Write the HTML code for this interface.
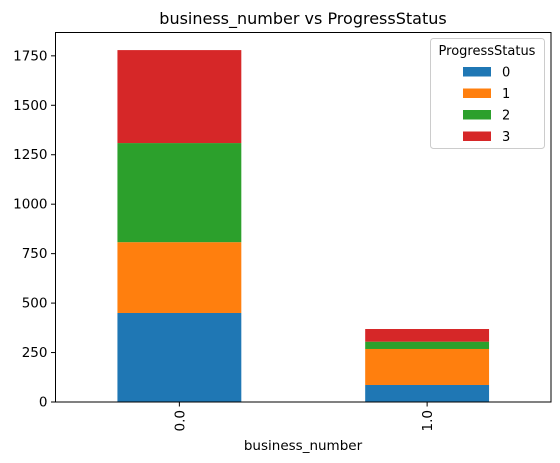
<!DOCTYPE html>
<html><head><meta charset="utf-8"><style>
body{margin:0;background:#fff}
svg{display:block;font-family:"DejaVu Sans","Liberation Sans",sans-serif}
</style></head><body>
<svg id="chart" width="560" height="463">
<text x="303" y="24" font-size="16" text-anchor="middle">business_number vs ProgressStatus</text>
<g id="bars"></g>
<g id="yticks"></g>
<g id="xticks"></g>
<rect x="55.5" y="32.5" width="495.5" height="369.5" fill="none" stroke="#000" stroke-width="1"/>
<text x="303" y="450" font-size="13.5" text-anchor="middle">business_number</text>
<g id="legend">
<rect x="430.5" y="38.5" width="114" height="110" rx="3" fill="#fff" fill-opacity="0.8" stroke="#ccc"/>
<text x="487" y="55" font-size="13" text-anchor="middle">ProgressStatus</text>
</g>
</svg>
<script>
const categories=["0.0","1.0"];
const seriesNames=["0","1","2","3"];
const s0=[450,86];
const s1=[358,182];
const s2=[501,37];
const s3=[470,64];
const yTicks=[0,250,500,750,1000,1250,1500,1750];
const colors=["#1f77b4","#ff7f0e","#2ca02c","#d62728"];
const series=[s0,s1,s2,s3];
const NS="http://www.w3.org/2000/svg";
const L=55.5,R=551,T=32.5,B=402;
const totals=categories.map((c,i)=>series.reduce((a,s)=>a+s[i],0));
const ymax=Math.max(...totals)*1.05;
const y=v=>B-(v/ymax)*(B-T);
const band=(R-L)/categories.length;
const xc=i=>L+band*(i+0.5);
const bw=band*0.5;
function mk(tag,attrs,parent){const e=document.createElementNS(NS,tag);for(const k in attrs)e.setAttribute(k,attrs[k]);parent.appendChild(e);return e;}
const gb=document.getElementById('bars');
categories.forEach((c,i)=>{let acc=0;series.forEach((s,k)=>{
 const r=mk('rect',{x:xc(i)-bw/2,y:y(acc+s[i]),width:bw,height:y(acc)-y(acc+s[i]),fill:colors[k]},gb);
 
 
 acc+=s[i];});});
const gy=document.getElementById('yticks');
yTicks.forEach(v=>{if(v>ymax)return;
 const l=mk('line',{x1:L-4.5,x2:L,y1:y(v),y2:y(v),stroke:'#000'},gy);
 
 
 const t=mk('text',{x:L-8,y:y(v)+4.5,'font-size':13.5,'text-anchor':'end'},gy);t.textContent=v;
 
 });
const gx=document.getElementById('xticks');
categories.forEach((c,i)=>{const x=xc(i);
 const l=mk('line',{x1:x,x2:x,y1:B,y2:B+4.5,stroke:'#000'},gx);
 
 
 const t=mk('text',{x:0,y:0,'font-size':13.5,'text-anchor':'end',transform:`translate(${x+5},${B+8}) rotate(-90)`},gx);t.textContent=c;
 
 });
const lg=document.getElementById('legend');
seriesNames.forEach((n,k)=>{const yy=67+k*21.5;
 const r=mk('rect',{x:463,y:yy,width:28,height:9.5,fill:colors[k]},lg);
 
 
 const t=mk('text',{x:502,y:yy+9.5,'font-size':13},lg);t.textContent=n;
 
 });
</script>
</body></html>
